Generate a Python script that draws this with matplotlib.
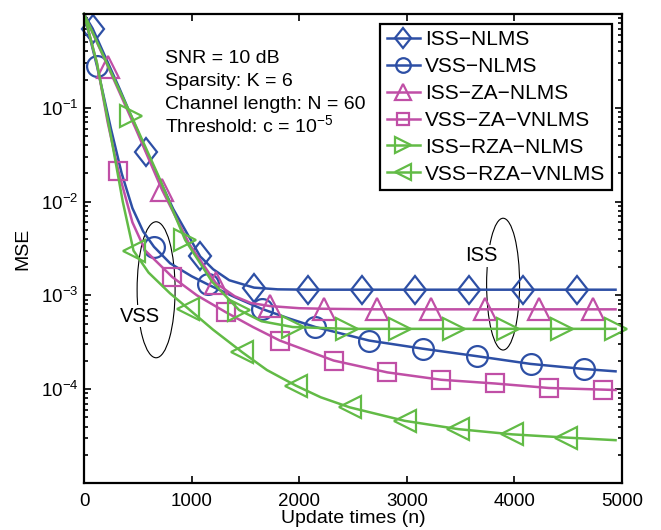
import matplotlib
matplotlib.use("Agg")
import matplotlib.pyplot as plt
from matplotlib.patches import Ellipse
from matplotlib.markers import MarkerStyle
from matplotlib.transforms import Affine2D

plt.rcParams['font.family'] = ['Liberation Sans', 'DejaVu Sans']
plt.rcParams['mathtext.fontset'] = 'custom'
plt.rcParams['mathtext.rm'] = 'Liberation Sans'
plt.rcParams['mathtext.it'] = 'Liberation Sans:italic'
plt.rcParams['mathtext.bf'] = 'Liberation Sans:bold'

# values
iss_nlms_n = [0, 80, 330, 580, 830, 1080, 1200, 1350, 1580, 1800, 2080, 2580, 3080, 3580, 4080, 4580, 4940]
iss_nlms = [1.0, 0.70, 0.16, 0.034, 8.3e-3, 2.6e-3, 1.9e-3, 1.45e-3, 1.21e-3, 1.16e-3, 1.15e-3,
            1.15e-3, 1.15e-3, 1.15e-3, 1.15e-3, 1.15e-3, 1.15e-3]
iss_nlms_mk = [80, 580, 1080, 1580, 2080, 2580, 3080, 3580, 4080, 4580]

vss_nlms_n = [0, 120, 250, 350, 450, 550, 650, 800, 1000, 1150, 1400, 1650, 1900, 2150, 2650,
              3150, 3650, 4150, 4650, 4940]
vss_nlms = [1.0, 0.28, 0.06, 0.02, 8.5e-3, 4.8e-3, 3.3e-3, 2.2e-3, 1.6e-3, 1.31e-3, 9.6e-4,
            7.2e-4, 5.7e-4, 4.6e-4, 3.3e-4, 2.7e-4, 2.25e-4, 1.86e-4, 1.64e-4, 1.55e-4]
vss_nlms_mk = [120, 650, 1150, 1650, 2150, 2650, 3150, 3650, 4150, 4650]

iss_za_n = [0, 226, 480, 726, 980, 1226, 1400, 1550, 1726, 2000, 2226, 2726, 3226, 3726, 4226, 4726, 4940]
iss_za = [1.0, 0.27, 0.06, 0.0133, 3.5e-3, 1.35e-3, 9.8e-4, 8.3e-4, 7.7e-4, 7.3e-4, 7.2e-4,
          7.1e-4, 7.1e-4, 7.1e-4, 7.1e-4, 7.1e-4, 7.1e-4]
iss_za_mk = [226, 726, 1226, 1726, 2226, 2726, 3226, 3726, 4226, 4726]

vss_za_n = [0, 120, 220, 320, 450, 570, 820, 1050, 1320, 1570, 1820, 2320, 2820, 3320, 3820,
            4320, 4820, 4940]
vss_za = [1.0, 0.3, 0.07, 0.021, 6e-3, 3.0e-3, 1.57e-3, 1.0e-3, 6.6e-4, 4.6e-4, 3.3e-4,
          2.02e-4, 1.51e-4, 1.26e-4, 1.15e-4, 1.03e-4, 9.9e-5, 9.8e-5]
vss_za_mk = [320, 820, 1320, 1820, 2320, 2820, 3320, 3820, 4320, 4820]

iss_rza_n = [0, 440, 690, 940, 1190, 1440, 1650, 1940, 2440, 2940, 3440, 3940, 4440, 4940]
iss_rza = [1.0, 0.082, 0.019, 3.9e-3, 1.4e-3, 7.0e-4, 5.3e-4, 4.6e-4, 4.4e-4, 4.4e-4,
           4.4e-4, 4.4e-4, 4.4e-4, 4.4e-4]
iss_rza_mk = [440, 940, 1440, 1940, 2440, 2940, 3440, 3940, 4440, 4940]

vss_rza_n = [0, 120, 250, 360, 460, 600, 800, 970, 1200, 1470, 1700, 1970, 2200, 2470, 2980,
             3480, 3980, 4480, 4940]
vss_rza = [1.0, 0.3, 0.05, 0.01, 3.0e-3, 1.75e-3, 1.05e-3, 7.2e-4, 4.3e-4, 2.48e-4, 1.6e-4,
           1.09e-4, 8.2e-5, 6.4e-5, 4.6e-5, 3.75e-5, 3.3e-5, 3.05e-5, 2.86e-5]
vss_rza_mk = [460, 970, 1470, 1970, 2470, 2980, 3480, 3980, 4480]

labels = ["ISS\u2212NLMS", "VSS\u2212NLMS", "ISS\u2212ZA\u2212NLMS", "VSS\u2212ZA\u2212VNLMS",
          "ISS\u2212RZA\u2212NLMS", "VSS\u2212RZA\u2212VNLMS"]

blue = "#2d4fa5"
magenta = "#c04fa6"
green = "#62bb46"

diamond = MarkerStyle("D", transform=Affine2D().scale(0.78, 1.0))

series = [
    (iss_nlms_n, iss_nlms, iss_nlms_mk, blue, diamond, 14.5),
    (vss_nlms_n, vss_nlms, vss_nlms_mk, blue, "o", 15),
    (iss_za_n, iss_za, iss_za_mk, magenta, "^", 16),
    (vss_za_n, vss_za, vss_za_mk, magenta, "s", 12.5),
    (iss_rza_n, iss_rza, iss_rza_mk, green, ">", 16),
    (vss_rza_n, vss_rza, vss_rza_mk, green, "<", 16),
]

fig = plt.figure(figsize=(6.61, 5.30), dpi=100)
ax = fig.add_axes([0.1271, 0.0887, 0.8139, 0.8849])

for (n, y, mk, c, m, ms), lab in zip(series, labels):
    idx = [n.index(v) for v in mk]
    ax.plot(n, y, color=c, lw=1.8, marker=m, markersize=ms, markevery=idx,
            markerfacecolor="none", markeredgecolor=c, markeredgewidth=1.6,
            label=lab, clip_on=False)

ax.set_yscale("log")
ax.set_xlim(0, 5000)
ax.set_ylim(1e-5, 1)
ax.set_xticks([0, 1000, 2000, 3000, 4000, 5000])
ax.set_yticks([1e-4, 1e-3, 1e-2, 1e-1])
ax.tick_params(which="both", direction="in", top=True, right=True, labelsize=13.5, width=1.2)
ax.tick_params(which="major", length=5)
ax.tick_params(which="minor", length=3)
ax.tick_params(axis="y", pad=4)
ax.tick_params(axis="x", pad=7)
for s in ax.spines.values():
    s.set_linewidth(1.6)

ax.set_xlabel("Update times (n)", fontsize=14, labelpad=0)
ax.set_ylabel("MSE", fontsize=14, labelpad=7)

leg = ax.legend(loc="upper right", bbox_to_anchor=(0.981, 0.979), fontsize=15,
                handlelength=1.6, handletextpad=0.25, borderpad=0.3, labelspacing=0.38,
                borderaxespad=0, fancybox=False, framealpha=1, markerscale=0.7)
leg.get_frame().set_edgecolor("black")
leg.get_frame().set_linewidth(1.6)

notes = ["SNR = 10 dB", "Sparsity: K = 6", "Channel length: N = 60", "Threshold: c = $10^{-5}$"]
for i, t in enumerate(notes):
    ax.text(0.1506, 0.895 - i * 0.049, t, transform=ax.transAxes, fontsize=14, va="baseline")

ax.add_patch(Ellipse((0.134, 0.412), 0.0706, 0.29, transform=ax.transAxes,
                     fill=False, edgecolor="black", lw=0.8))
ax.add_patch(Ellipse((0.779, 0.424), 0.0613, 0.281, transform=ax.transAxes,
                     fill=False, edgecolor="black", lw=0.8))
ax.text(0.104, 0.356, "VSS", transform=ax.transAxes, fontsize=14.5, ha="center", va="center",
        bbox=dict(facecolor="white", edgecolor="none", pad=1))
ax.text(0.738, 0.484, "ISS", transform=ax.transAxes, fontsize=14.5, ha="center", va="center",
        bbox=dict(facecolor="white", edgecolor="none", pad=1))

plt.savefig("out.png", dpi=100)
